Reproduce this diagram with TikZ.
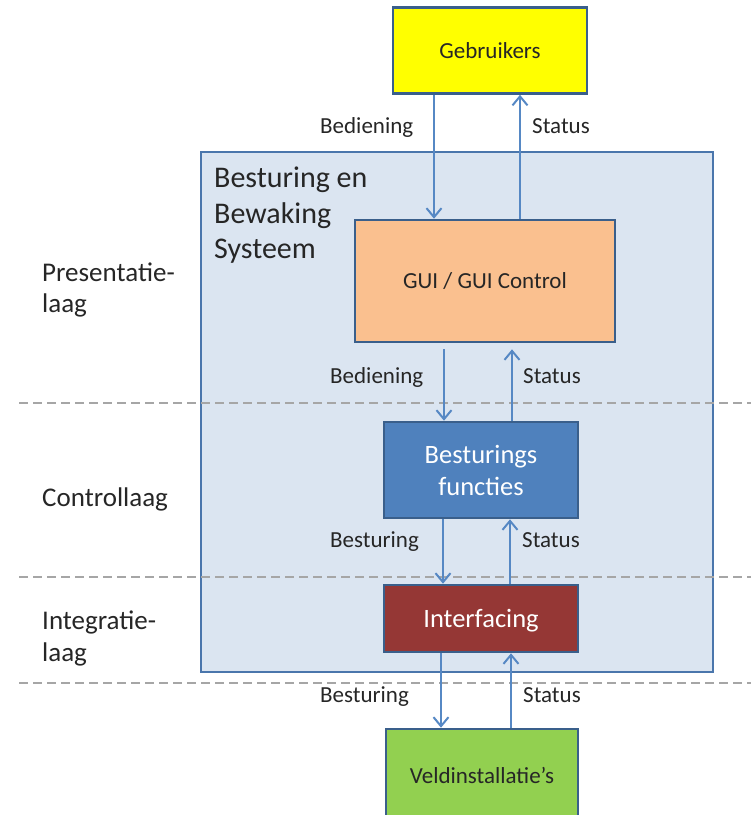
\documentclass[tikz,border=0pt]{standalone}
\usepackage{fontspec}
\setmainfont{Carlito}
\usetikzlibrary{arrows.meta}

\definecolor{boxline}{HTML}{3A5F8B}
\definecolor{sysfill}{HTML}{DBE5F1}
\definecolor{sysline}{HTML}{4A76AC}
\definecolor{flowblue}{HTML}{5688C4}
\definecolor{dashgray}{HTML}{A6A6A6}
\definecolor{ink}{HTML}{262626}
\definecolor{gebyellow}{HTML}{FFFF00}
\definecolor{guiorange}{HTML}{FAC08F}
\definecolor{ctrlblue}{HTML}{4F81BD}
\definecolor{intred}{HTML}{953735}
\definecolor{veldgreen}{HTML}{92D050}

\tikzset{
  box/.style={draw=boxline, line width=2.6pt, inner sep=0pt, text=ink,
              font=\fontsize{23}{28}\selectfont},
  bigbox/.style={box, text=white, font=\fontsize{26.5}{32}\selectfont, align=center},
  flow/.style={draw=flowblue, line width=2pt,
               -{Straight Barb[length=9pt,width=15pt]}},
  layerline/.style={draw=dashgray, line width=2pt, dash pattern=on 9pt off 5pt},
  lbl/.style={font=\fontsize{23}{28}\selectfont, text=ink, inner sep=0pt,
              anchor=base west},
  layerlbl/.style={font=\fontsize{27}{32}\selectfont, text=ink, inner sep=0pt,
                   anchor=base west},
  titlelbl/.style={font=\fontsize{30}{36}\selectfont, text=ink, inner sep=0pt,
                   anchor=base west}
}

\begin{document}
\begin{tikzpicture}[x=1pt, y=-1pt]
\useasboundingbox (0,0) rectangle (751,815);
\clip (0,0) rectangle (751,815);

% system frame
\node[draw=sysline, fill=sysfill, line width=2.4pt, minimum width=512pt,
      minimum height=520pt, inner sep=0pt] (sys) at (457,412) {};
\node[titlelbl] (t1) at (214,187) {Besturing en};
\node[titlelbl] (t2) at (214,223) {Bewaking};
\node[titlelbl] (t3) at (214,258) {Systeem};

% layer separators
\coordinate (d1a) at (19,403);  \coordinate (d1b) at (751,403);
\coordinate (d2a) at (19,577);  \coordinate (d2b) at (751,577);
\coordinate (d3a) at (19,683);  \coordinate (d3b) at (751,683);
\draw[layerline] (d1a) -- (d1b);
\draw[layerline] (d2a) -- (d2b);
\draw[layerline] (d3a) -- (d3b);

% layer names
\node[layerlbl] (p1) at (42,281) {Presentatie-};
\node[layerlbl] (p2) at (42,312) {laag};
\node[layerlbl] (c1) at (42,506) {Controllaag};
\node[layerlbl] (i1) at (42,629) {Integratie-};
\node[layerlbl] (i2) at (42,661) {laag};

% components
\node[box, fill=gebyellow, minimum width=194pt, minimum height=86pt]
  (geb) at (490,50.5) {Gebruikers};
\node[box, fill=guiorange, minimum width=260pt, minimum height=122pt]
  (gui) at (485,281) {GUI / GUI Control};
\node[bigbox, fill=ctrlblue, minimum width=194pt, minimum height=96pt]
  (bf) at (481,470) {Besturings\\functies};
\node[bigbox, fill=intred, minimum width=194pt, minimum height=67pt,
      text depth=0pt]
  (int) at (481,618.5) {Interfacing};
\node[box, fill=veldgreen, minimum width=192pt, minimum height=92pt]
  (veld) at (482,775) {Veldinstallatie’s};

% connector columns
\coordinate (xa) at (434,0);  \coordinate (xb) at (520,0);
\coordinate (xc) at (444,0);  \coordinate (xd) at (512,0);
\coordinate (xe) at (443,0);  \coordinate (xf) at (510,0);
\coordinate (xg) at (441,0);  \coordinate (xh) at (511,0);

\draw[flow] (xa |- geb.south) -- (xa |- gui.north);
\draw[flow] (xb |- gui.north) -- (xb |- geb.south);
\draw[flow, shorten <=6pt] (xc |- gui.south) -- (xc |- bf.north);
\draw[flow, shorten >=6pt] (xd |- bf.north) -- (xd |- gui.south);
\draw[flow] (xe |- bf.south) -- (xe |- int.north);
\draw[flow] (xf |- int.north) -- (xf |- bf.south);
\draw[flow] (xg |- int.south) -- (xg |- veld.north);
\draw[flow] (xh |- veld.north) -- (xh |- int.south);

% connector labels
\node[lbl] (l1) at (320,133) {Bediening};
\node[lbl] (l2) at (532,133) {Status};
\node[lbl] (l3) at (330,383) {Bediening};
\node[lbl] (l4) at (523,383) {Status};
\node[lbl] (l5) at (330,547) {Besturing};
\node[lbl] (l6) at (522,547) {Status};
\node[lbl] (l7) at (320,702) {Besturing};
\node[lbl] (l8) at (523,702) {Status};
\end{tikzpicture}
\end{document}
